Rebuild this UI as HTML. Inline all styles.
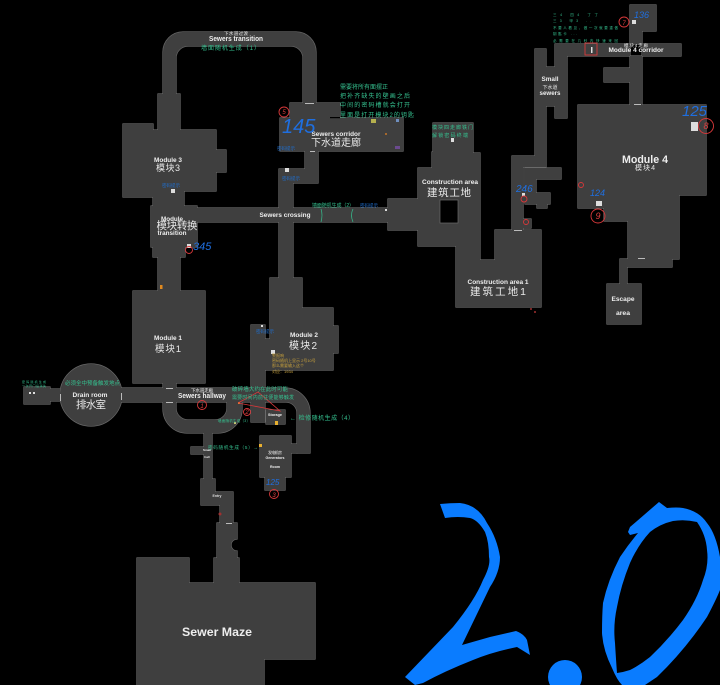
<!DOCTYPE html>
<html><head><meta charset="utf-8"><style>
html,body{margin:0;padding:0;background:#000}
svg{display:block}
text{font-family:"Liberation Sans","Noto Sans CJK SC",sans-serif}
.l{font-weight:bold;fill:#eee;text-anchor:middle}
.h{fill:#e8e8e8;text-anchor:middle;font-family:"Noto Serif CJK SC","Noto Sans CJK SC",sans-serif}
.g{fill:#35c08f;font-family:"Noto Serif CJK SC","Noto Sans CJK SC",sans-serif}
.b{fill:#1f6fe0;font-style:italic}
.bs{fill:#1f6fd0;font-size:4.5px;font-family:"Noto Sans CJK SC",sans-serif}
.y{fill:#c9a23c;font-size:4px;font-family:"Noto Sans CJK SC",sans-serif}
.r{fill:none;stroke:#d8383a;stroke-width:.9}
.rt{fill:#e04040;text-anchor:middle;font-style:italic}
</style></head><body>
<svg xmlns="http://www.w3.org/2000/svg" width="720" height="685" viewBox="0 0 720 685">
<defs><g id="m">
<path d="M163 95V52a20 20 0 0 1 20-20H296a20 20 0 0 1 20 20V104H303V58a12 12 0 0 0-12-12H188a12 12 0 0 0-12 12V95Z"/>
<polygon points="158,94 180,94 180,130 216,130 216,150 226,150 226,172 216,172 216,191 184,191 184,206 197,206 197,208 388,208 388,222 197,222 197,247 185,247 185,257 180,257 180,291 158,291 158,257 153,257 153,247 151,247 151,206 153,206 153,197 123,197 123,124 153,124 153,130 158,130"/>
<polygon points="290,103 340,103 340,118 403,118 403,151 318,151 318,183 293,183 293,280 279,280 279,169 305,169 305,151 280,151 280,118 290,118"/>
<polygon points="388,199 418,199 418,168 432,168 432,152 433,152 433,123 473,123 473,153 480,153 480,260 495,260 495,230 541,230 541,307 456,307 456,246 418,246 418,230 388,230"/>
<polygon points="535,49 546,49 546,67 555,67 555,44 681,44 681,56 642,56 642,31 656,31 656,5 630,5 630,44 630,56 567,56 567,118 555,118 555,106 546,106 546,167 523,167 523,230 512,230 512,156 535,156"/>
<polygon points="642,56 642,105 630,105 630,82 604,82 604,68 630,68 630,56"/>
<polygon points="525,168 561,168 561,179 536,179 536,193 550,193 550,204 547,204 547,208 537,208 537,204 525,204"/>
<rect x="523" y="219" width="8" height="9"/>
<polygon points="578,105 706,105 706,195 679,195 679,259 628,259 628,221 604,221 604,208 578,208"/>
<polygon points="620,259 672,259 672,267 627,267 627,284 620,284"/>
<rect x="607" y="284" width="34" height="40"/>
<rect x="133" y="291" width="72" height="92"/>
<rect x="163" y="383" width="13" height="5"/>
<path d="M121 388H285a25 25 0 0 1 25 25V453H297V413a11 11 0 0 0-11-11H121Z"/>
<path d="M163 402V409a24 24 0 0 0 24 24H218a24 24 0 0 0 24-24V402H227V408a12 12 0 0 1-12 12H188a12 12 0 0 1-12-12V402Z"/>
<circle cx="91" cy="395" r="31"/>
<rect x="50" y="389" width="10" height="12"/>
<rect x="24" y="387" width="26" height="17"/>
<polygon points="251,325 265,325 265,339 270,339 270,278 302,278 302,308 333,308 333,326 338,326 338,353 333,353 333,370 265,370 265,422 251,422"/>
<rect x="266" y="410" width="19" height="14"/>
<rect x="291" y="444" width="6" height="9"/>
<polygon points="260,436 291,436 291,477 285,477 285,490 265,490 265,477 260,477"/>
<polygon points="204,433 212,433 212,480 204,480 204,454 191,454 191,447 204,447"/>
<polygon points="201,479 215,479 215,492 233,492 233,523 220,523 220,505 201,505"/>
<path d="M217 523H237V539A6 6 0 0 0 237 551V558H239V583H315V659H264V685H137V558H189V583H214V558H217Z"/>
</g></defs>
<rect width="720" height="685" fill="#000"/>
<use href="#m" fill="#6a6a6a" stroke="#6a6a6a" stroke-width="1.2"/>
<use href="#m" fill="#3f3f3f"/>
<rect x="440" y="200" width="18" height="23" fill="#000" stroke="#6a6a6a" stroke-width=".7"/>
<rect x="330" y="117" width="10" height="1.2" fill="#000"/>
<!-- doors & items -->
<g fill="#bbb">
<rect x="305" y="103" width="9" height="1"/><rect x="310" y="151" width="5" height="1"/><rect x="166" y="388" width="7" height="1"/><rect x="166" y="402" width="7" height="1"/>
<rect x="60" y="394" width="1" height="7"/><rect x="121" y="393" width="1" height="7"/><rect x="634" y="104" width="7" height="1"/><rect x="638" y="258" width="7" height="1"/><rect x="514" y="230" width="8" height="1"/><rect x="226" y="523" width="6" height="1"/>
</g>
<g fill="#ddd"><rect x="285" y="168" width="4" height="4"/><rect x="171" y="189" width="4" height="4"/><rect x="187" y="244" width="4" height="4"/><rect x="451" y="138" width="3" height="4"/><rect x="632" y="20" width="4" height="4"/><rect x="591" y="47" width="1.5" height="6"/><rect x="691" y="122" width="7" height="9"/><rect x="596" y="201" width="6" height="5"/><rect x="522" y="193" width="3" height="3"/><rect x="385" y="209" width="2" height="2"/><rect x="261" y="325" width="2" height="2"/><rect x="271" y="350" width="4" height="4"/><rect x="29" y="392" width="2" height="2"/><rect x="33" y="392" width="2" height="2"/></g>
<rect x="371" y="119" width="5" height="4" fill="#b5b04e"/><rect x="396" y="119" width="3" height="3" fill="#6f8fbf"/><rect x="385" y="133" width="2" height="2" fill="#a5682d"/><rect x="395" y="146" width="5" height="3" fill="#6b4a8f"/><rect x="160" y="285" width="2.5" height="4" fill="#e08a20"/><rect x="275" y="421" width="3" height="4" fill="#e8b030"/><rect x="259" y="444" width="3" height="3" fill="#e8b030"/><rect x="238" y="402" width="2" height="2" fill="#e8b030"/><rect x="234" y="422" width="2" height="2" fill="#c9c070"/>
<!-- 2.0 -->
<path fill="#0a7cff" d="M440 504Q450 503 460 503Q478 505 487 523Q497 538 500 557Q500 572 490 587L462 645L490 637L516 631Q524 634 527 640L530 655L517 647Q492 652 473 660Q445 671 423 683L415 685L405 677L453 627Q475 600 483 580Q491 565 489 557Q489 542 485 532Q478 520 470 518Q458 516 445 518Z"/>
<circle cx="565" cy="677" r="17" fill="#0a7cff"/>
<path fill="#0a7cff" fill-rule="evenodd" d="M659 502L667 508Q677 507 683 508Q699 511 707 523Q716 534 720 557V590Q716 600 707 617Q685 650 657 677L645 685H622Q617 680 612 668Q603 650 602 633Q602 615 603 603Q608 580 620 557Q628 545 638 533L630 535L628 532L630 527ZM673 521Q660 524 650 532Q638 545 630 563Q621 585 617 607Q613 625 615 643Q616 660 617 673Q624 672 630 670Q640 665 650 657Q668 640 683 620Q697 600 703 580Q709 565 707 550Q706 535 697 522Q685 519 673 521Z"/>
<!-- red annotations -->
<g class="r">
<circle cx="284" cy="112" r="5"/><circle cx="189" cy="250" r="3.5"/><circle cx="624" cy="22" r="5"/><circle cx="706" cy="126" r="7.5"/><circle cx="598" cy="216" r="7"/><circle cx="581" cy="185" r="2.5"/><circle cx="524" cy="199" r="3"/><circle cx="526" cy="222" r="2.5"/><rect x="585" y="43" width="12" height="12"/><circle cx="202" cy="405" r="4.5"/><circle cx="247" cy="412" r="3.5"/><circle cx="274" cy="494" r="4.5"/>
<path d="M238 403L280 411L258 392L238 403" stroke-width=".8"/>
</g>
<circle cx="220" cy="514" r="1.5" fill="#a03030"/><circle cx="531" cy="309" r="1" fill="#a03030"/><circle cx="535" cy="312" r="1" fill="#a03030"/>
<g style="font-size:6px" class="rt"><text x="284" y="114">5</text><text x="624" y="25">7</text><text x="706" y="129" style="font-size:9px">8</text><text x="598" y="219" style="font-size:9px">9</text><text x="202" y="408">1</text><text x="247" y="414">2</text><text x="274" y="497">3</text></g>
<!-- room labels -->
<g class="l">
<text x="236" y="41" font-size="7" textLength="54" lengthAdjust="spacingAndGlyphs">Sewers transition</text>
<text x="336" y="136" font-size="6.8" textLength="49" lengthAdjust="spacingAndGlyphs">Sewers corridor</text>
<text x="168" y="162" font-size="6.5" textLength="28" lengthAdjust="spacingAndGlyphs">Module 3</text>
<text x="172" y="221" font-size="6.5" textLength="22" lengthAdjust="spacingAndGlyphs">Module</text>
<text x="172" y="235" font-size="6.5" textLength="29" lengthAdjust="spacingAndGlyphs">transition</text>
<text x="285" y="217" font-size="6.8" textLength="51" lengthAdjust="spacingAndGlyphs">Sewers crossing</text>
<text x="450" y="184" font-size="6.5" textLength="56" lengthAdjust="spacingAndGlyphs">Construction area</text>
<text x="498" y="284" font-size="6.5" textLength="61" lengthAdjust="spacingAndGlyphs">Construction area 1</text>
<text x="550" y="81" font-size="6" textLength="17" lengthAdjust="spacingAndGlyphs">Small</text>
<text x="550" y="95" font-size="6" textLength="21" lengthAdjust="spacingAndGlyphs">sewers</text>
<text x="636" y="52" font-size="6.5" textLength="55" lengthAdjust="spacingAndGlyphs">Module 4 corridor</text>
<text x="645" y="163" font-size="11" textLength="46" lengthAdjust="spacingAndGlyphs">Module 4</text>
<text x="623" y="301" font-size="6.5" textLength="23" lengthAdjust="spacingAndGlyphs">Escape</text>
<text x="623" y="315" font-size="6.5" textLength="14" lengthAdjust="spacingAndGlyphs">area</text>
<text x="168" y="340" font-size="6.5" textLength="28" lengthAdjust="spacingAndGlyphs">Module 1</text>
<text x="304" y="337" font-size="6.5" textLength="28" lengthAdjust="spacingAndGlyphs">Module 2</text>
<text x="90" y="397" font-size="6.5" textLength="35" lengthAdjust="spacingAndGlyphs">Drain room</text>
<text x="202" y="398" font-size="7" textLength="48" lengthAdjust="spacingAndGlyphs">Sewers hallway</text>
<text x="275" y="416" font-size="4" textLength="14" lengthAdjust="spacingAndGlyphs">Storage</text>
<text x="275" y="459" font-size="4" textLength="19" lengthAdjust="spacingAndGlyphs">Generators</text>
<text x="275" y="468" font-size="4" textLength="10" lengthAdjust="spacingAndGlyphs">Room</text>
<text x="217" y="497" font-size="3.5" fill="#ddd">Entry</text>
<text x="207" y="451" font-size="3">Small</text>
<text x="207" y="458" font-size="3">hall</text>
<text x="217" y="636" font-size="12" textLength="70" lengthAdjust="spacingAndGlyphs">Sewer Maze</text>
</g>
<!-- handwritten chinese -->
<g class="h">
<text x="168" y="171" font-size="9" textLength="24">模块3</text>
<text x="177" y="229" font-size="10.5" textLength="41">模块转换</text>
<text x="336" y="146" font-size="10" textLength="50">下水道走廊</text>
<text x="449" y="196" font-size="10.5" textLength="44">建筑工地</text>
<text x="498" y="295" font-size="10.5" textLength="56">建筑工地1</text>
<text x="645" y="170" font-size="7" textLength="20">模块4</text>
<text x="168" y="352" font-size="9.5" textLength="26">模块1</text>
<text x="303" y="349" font-size="10" textLength="28">模块2</text>
<text x="91" y="408" font-size="10.5" textLength="30">排水室</text>
<text x="550" y="89" font-size="5" textLength="15">下水道</text>
<text x="202" y="392" font-size="4.5" textLength="22">下水道走廊</text>
<text x="636" y="47" font-size="4.5" textLength="24">模块4走廊</text>
<text x="236" y="35" font-size="4.5" textLength="24">下水道过渡</text>
<text x="275" y="454" font-size="4" textLength="14">发电机房</text>
</g>
<!-- green notes -->
<g class="g">
<text x="201" y="50" font-size="6" textLength="59">墙面随机生成（1）</text>
<text x="340" y="89" font-size="6" textLength="48">需要将所有面摆正</text>
<text x="340" y="98" font-size="6" textLength="70">把补齐缺失的壁画之后</text>
<text x="340" y="107" font-size="6" textLength="70">中间的密码槽就会打开</text>
<text x="340" y="117" font-size="6" textLength="74">里面是打开模块2的钥匙</text>
<text x="432" y="129" font-size="5" textLength="41">模块四走廊铁门</text>
<text x="432" y="137" font-size="5" textLength="36">解锁密码终端</text>
<text x="312" y="207" font-size="5" textLength="42">墙面随机生成（2）</text>
<text x="65" y="385" font-size="5.5" textLength="55">必须全中预备触发地点</text>
<text x="22" y="383" font-size="3" textLength="24">密码随机生成</text>
<text x="22" y="387" font-size="3" textLength="24">一次开门后消失</text>
<text x="232" y="391" font-size="5.5" textLength="56">破碎墙大约在此时可能</text>
<text x="232" y="399" font-size="5" textLength="62">需要时间内前往便能够触发</text>
<text x="218" y="422" font-size="3.5" textLength="32">墙面随机生成（3）</text>
<text x="290" y="420" font-size="6" textLength="64">←  检修随机生成（4）</text>
<text x="208" y="449" font-size="4.6" textLength="50">密码随机生成（5）→</text>
<text x="553" y="16" font-size="3.5" textLength="45">三4   四4     丁丁</text>
<text x="553" y="22" font-size="3.5" textLength="38">三3   甲3    ..</text>
<text x="553" y="29" font-size="3.5" textLength="65">不要人看见，做一次就要重做</text>
<text x="553" y="35" font-size="3.5" textLength="24">钥匙卡   ...</text>
<text x="553" y="42" font-size="3.5" textLength="65">必需要在几秒内快速来回</text>
</g>
<g stroke="#35c08f" fill="none" stroke-width=".7"><path d="M321 209Q323 215 321 222M353 209Q350 215 353 222"/></g>
<!-- blue notes -->
<g class="b">
<text x="282" y="133" font-size="20">145</text>
<text x="193" y="250" font-size="11">345</text>
<text x="682" y="116" font-size="15">125</text>
<text x="634" y="18" font-size="9">136</text>
<text x="516" y="192" font-size="10">246</text>
<text x="590" y="196" font-size="9">124</text>
<text x="266" y="485" font-size="8">125</text>
</g>
<g class="bs">
<text x="277" y="150">密码提示</text><text x="282" y="180">密码提示</text><text x="162" y="187">密码提示</text><text x="360" y="207">密码提示</text><text x="256" y="333">密码提示</text>
</g>
<g class="y">
<text x="272" y="357">警报响</text><text x="272" y="362">密码随机上显示 2号10号</text><text x="272" y="367">那么需要输入这个</text><text x="272" y="373">对应：1934</text>
</g>
</svg>
</body></html>
